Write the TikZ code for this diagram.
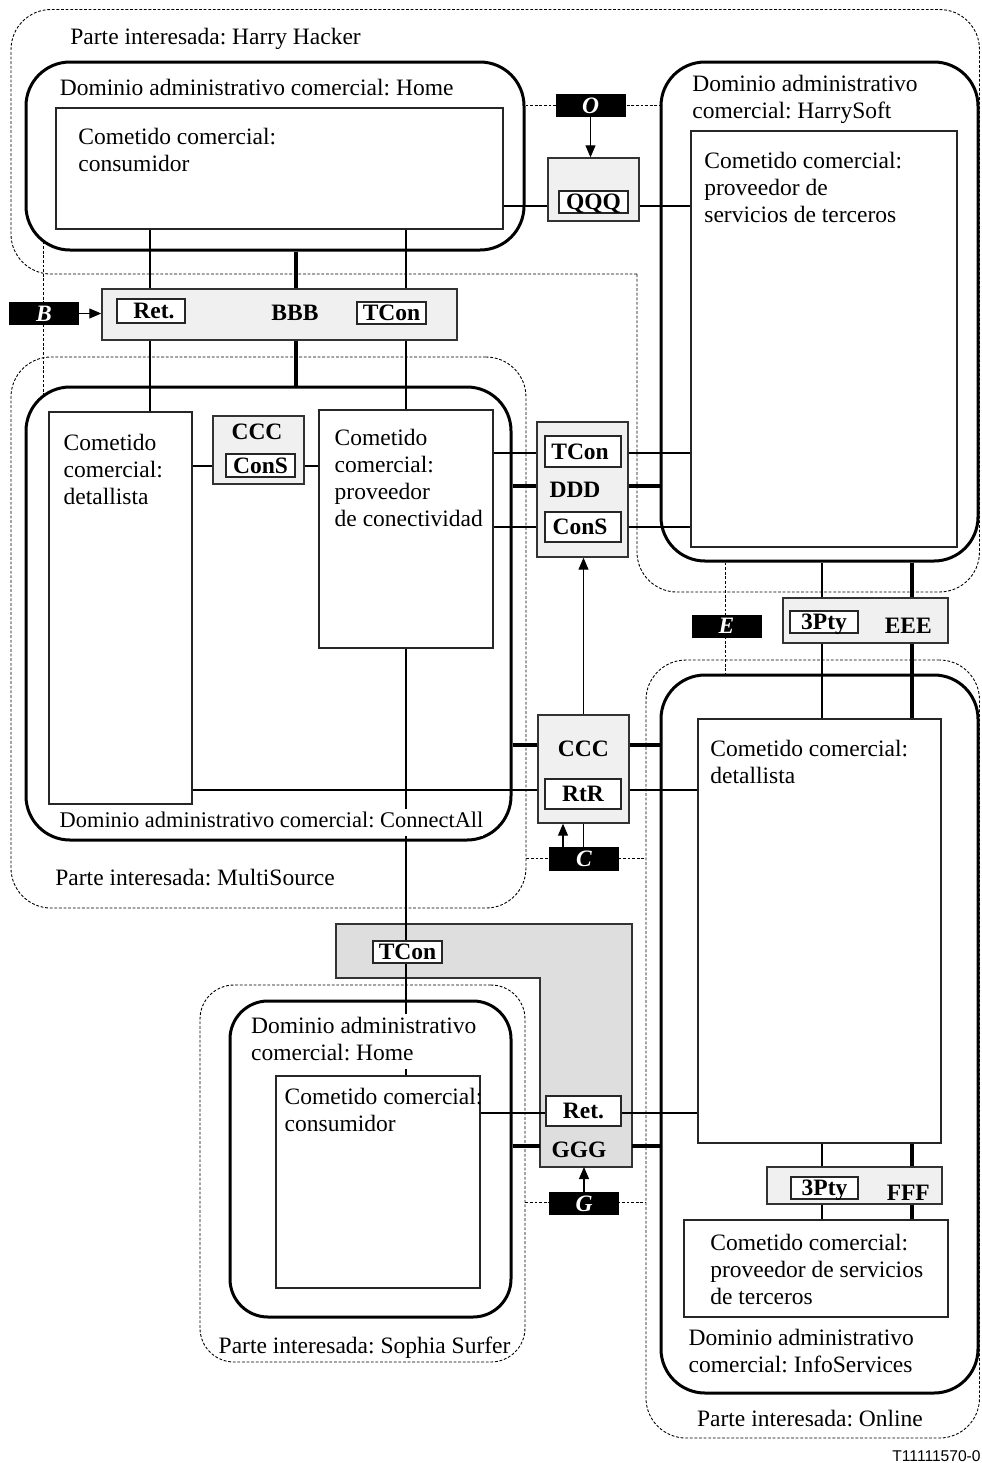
\documentclass[tikz,border=0pt]{standalone}
\usepackage{fontspec}
\setmainfont{Liberation Serif}
\newfontfamily\tagfont{Liberation Sans}
\usetikzlibrary{arrows.meta,fit}
\pgfdeclarelayer{shade}
\pgfdeclarelayer{wires}
\pgfsetlayers{shade,wires,main}
% multi-line text whose baseline is the first line's baseline
\newcommand{\ml}[1]{\begin{tabular}[t]{@{}l@{}}#1\end{tabular}}
\begin{document}
\frenchspacing
\begin{tikzpicture}[x=0.5pt,y=-0.5pt,
  font=\fontsize{11.75}{13.6}\selectfont,
  stake/.style={draw, line width=0.45pt, dash pattern=on 1.4pt off 0.9pt, rounded corners=20pt, inner sep=0pt},
  admdom/.style={draw, line width=1.5pt, rounded corners=22pt, inner sep=0pt},
  role/.style={draw=black!85, line width=0.55pt, inner sep=0pt},
  rp/.style={draw=black!80, fill=black!6, line width=0.7pt, inner sep=0pt},
  tagbox/.style={draw=black!85, fill=white, line width=0.7pt, inner sep=0pt,
    font=\fontsize{11.75}{13.6}\selectfont\bfseries, text height=7.8pt, text depth=0pt},
  rplabel/.style={inner sep=0pt, font=\fontsize{11.75}{13.6}\selectfont\bfseries,
    text height=7.8pt, text depth=0pt},
  iface/.style={fill=black, text=white, inner sep=0pt, minimum height=11.5pt, minimum width=35pt,
    font=\fontsize{11.75}{13.6}\selectfont\bfseries\itshape, text height=7.8pt, text depth=0pt},
  txt/.style={anchor=base west, inner sep=0pt},
  wire/.style={line width=0.55pt},
  bus/.style={line width=1.6pt},
  fence/.style={line width=0.45pt, dash pattern=on 1.4pt off 0.9pt},
  arr/.style={line width=0.55pt, -{Triangle[length=6pt,width=5pt]}},
]
\useasboundingbox (0,0) rectangle (981,1463);

% columns and rows used by the connectors
\coordinate (c150) at (150,0);
\coordinate (c296) at (296,0);
\coordinate (c406) at (406,0);
\coordinate (c563) at (563,0);
\coordinate (c725) at (725,0);
\coordinate (c822) at (822,0);
\coordinate (c912) at (912,0);
\coordinate (r105) at (0,105);
\coordinate (r206) at (0,206);
\coordinate (r453) at (0,453);
\coordinate (r466) at (0,466);
\coordinate (r486) at (0,486);
\coordinate (r527) at (0,527);
\coordinate (r745) at (0,745);
\coordinate (r790) at (0,790);
\coordinate (r858) at (0,858);
\coordinate (r1113) at (0,1113);
\coordinate (r1146) at (0,1146);
\coordinate (r1202) at (0,1202);
\coordinate (bTop) at (43,241.5);
\coordinate (bBot) at (43,395.5);
\coordinate (gggS) at (585,1167);
\coordinate (gggW) at (540,1146);
\coordinate (gggE) at (632,1146);

% stakeholders
\draw[stake] (637,274) -- (11,274) -- (11,9.5) -- (979.5,9.5) -- (979.5,592) -- (637,592) -- (637,274);
\node[stake, fit={(11,357) (526,908)}] (ms) {};
\node[stake, rounded corners=17pt, fit={(200,985) (525,1362)}] (sophia) {};
\node[stake, fit={(646,660) (979.5,1438)}] (online) {};

% administrative domains
\node[admdom, fit={(26,62) (524,250)}] (homeA) {};
\node[admdom, fit={(26,387) (511,840)}] (connectall) {};
\node[admdom, fit={(661,62) (978,561)}] (harrysoft) {};
\node[admdom, fit={(661,675) (978,1393)}] (infoserv) {};
\node[admdom, rounded corners=19pt, fit={(230,1001) (511,1317)}] (homeB) {};

% business roles
\node[role, fit={(56,108) (503,229)}] (consA) {};
\node[role, fit={(49,412) (192,804)}] (retA) {};
\node[role, fit={(319,410) (493,648)}] (conprov) {};
\node[role, fit={(691,131) (957,547)}] (hsprov) {};
\node[role, fit={(698,719) (941,1143)}] (retB) {};
\node[role, fit={(684,1220) (948,1317)}] (isprov) {};
\node[role, fit={(276,1076) (480,1288)}] (consB) {};

% reference points
\node[rp, fit={(548,158) (639,221)}] (qqq) {};
\node[rp, fit={(102,289) (457,340)}] (bbb) {};
\node[rp, fit={(213,416) (304,484)}] (cccA) {};
\node[rp, fit={(537,422) (628,557)}] (ddd) {};
\node[rp, fit={(538,715) (629,823)}] (cccB) {};
\node[rp, fit={(783,598) (948,643)}] (eee) {};
\node[rp, fit={(767,1167) (942,1204)}] (fff) {};
\begin{pgfonlayer}{shade}
  \filldraw[draw=black!80, fill=black!13, line width=0.7pt]
    (336,924) -- (632,924) -- (632,1167) -- (540,1167) -- (540,978) -- (336,978) -- cycle;
\end{pgfonlayer}

\node[rplabel] (bbbL) at (295,312.8) {BBB};
\node[rplabel] (cccAL) at (257,432) {CCC};
\node[rplabel] (dddL) at (575,490) {DDD};
\node[rplabel] (cccBL) at (583.3,749) {CCC};
\node[rplabel] (eeeL) at (908.3,626) {EEE};
\node[rplabel] (fffL) at (908.3,1192.5) {FFF};
\node[rplabel] (gggL) at (579,1150) {GGG};

\node[tagbox, minimum width=34.5pt, minimum height=11pt] (qqqT) at (593.5,202) {QQQ};
\node[tagbox, minimum width=34pt, minimum height=12pt] (bbbRet) at (151,311) {\ Ret.};
\node[tagbox, minimum width=34.5pt, minimum height=11pt] (bbbTCon) at (391.5,313) {TCon};
\node[tagbox, minimum width=34.5pt, minimum height=11.5pt] (cccACons) at (260.5,465.5) {ConS};
\node[tagbox, minimum width=38pt, minimum height=15.5pt] (dddTCon) at (583,451.5) {TCon\ \ };
\node[tagbox, minimum width=38pt, minimum height=15pt] (dddCons) at (583,527) {ConS\ \ };
\node[tagbox, minimum width=38pt, minimum height=15pt] (cccBRtR) at (583,794) {RtR};
\node[tagbox, minimum width=34pt, minimum height=11pt] (eeeP) at (824,622) {3Pty};
\node[tagbox, minimum width=33.5pt, minimum height=11pt] (fffP) at (824.5,1188) {3Pty};
\node[tagbox, minimum width=34.5pt, minimum height=11pt] (gggTCon) at (407.5,952) {TCon};
\node[tagbox, minimum width=37.5pt, minimum height=15pt] (gggRet) at (583.5,1111) {Ret.};

% interfaces
\node[iface] (O) at (590.5,105.5) {O};
\node[iface] (B) at (44,313.5) {B};
\node[iface] (E) at (726.5,626) {E};
\node[iface, minimum height=12pt] (C) at (584,859) {C};
\node[iface] (G) at (584,1203.5) {G};

\begin{pgfonlayer}{wires}
  % thin links
  \draw[wire] (consA.south -| c150) -- (retA.north -| c150);
  \draw[wire] (consA.south -| c406) -- (conprov.north -| c406);
  \draw[wire] (consA.east |- r206) -- (hsprov.west |- r206);
  \draw[wire] (retA.east |- r466) -- (conprov.west |- r466);
  \draw[wire] (conprov.east |- r453) -- (hsprov.west |- r453);
  \draw[wire] (conprov.east |- r527) -- (hsprov.west |- r527);
  \draw[wire] (retA.east |- r790) -- (retB.west |- r790);
  \draw[wire] (conprov.south -| c406) -- (consB.north -| c406);
  \draw[wire] (harrysoft.south -| c822) -- (retB.north -| c822);
  \draw[wire] (retB.south -| c822) -- (isprov.north -| c822);
  \draw[wire] (consB.east |- r1113) -- (retB.west |- r1113);
  % thick links
  \draw[bus] (homeA.south -| c296) -- (connectall.north -| c296);
  \draw[bus] (connectall.east |- r486) -- (harrysoft.west |- r486);
  \draw[bus] (connectall.east |- r745) -- (infoserv.west |- r745);
  \draw[bus] (harrysoft.south -| c912) -- (retB.north -| c912);
  \draw[bus] (retB.south -| c912) -- (isprov.north -| c912);
  \draw[bus] (homeB.east |- r1146) -- (gggW);
  \draw[bus] (gggE) -- (infoserv.west |- r1146);
  % interface boundaries
  \draw[fence] (homeA.east |- r105) -- (harrysoft.west |- r105);
  \draw[fence] (bTop) -- (bBot);
  \draw[fence] (harrysoft.south -| c725) -- (infoserv.north -| c725);
  \draw[fence] (ms.east |- r858) -- (online.west |- r858);
  \draw[fence] (sophia.east |- r1202) -- (online.west |- r1202);
  % arrows
  \draw[arr] (O.south) -- (O.south |- qqq.north);
  \draw[arr] (B.east) -- (B.east -| bbb.west);
  \draw[arr] (cccB.north) -- (cccB.north |- ddd.south);
  \draw[arr] (C.north -| c563) -- (cccB.south -| c563);
  \draw[wire] (cccB.south) -- (cccB.south |- C.north);
  \draw[arr] (G.north) -- (G.north |- gggS);
\end{pgfonlayer}

% texts
\node[txt] (hhlab) at (70,44) {Parte interesada: Harry Hacker};
\node[txt] (homeAlab) at (59.5,95.5) {Dominio administrativo comercial: Home};
\node[txt] (consAlab) at (78,144.5) {\ml{Cometido comercial:\\consumidor}};
\node[txt] (hsdomlab) at (692,91.5) {\ml{Dominio administrativo\\comercial: HarrySoft}};
\node[txt] (hsprovlab) at (704,168.3) {\ml{Cometido comercial:\\proveedor de\\servicios de terceros}};
\node[txt] (retAlab) at (63.3,450) {\ml{Cometido\\comercial:\\detallista}};
\node[txt] (conprovlab) at (334.3,445) {\ml{Cometido\\comercial:\\proveedor\\de conectividad}};
\node[txt, fill=white, font=\fontsize{11.2}{13.6}\selectfont] (calab) at (59.3,827.7) {\ml{Dominio administrativo comercial: ConnectAll}};
\node[txt] (mslab) at (55,885.7) {Parte interesada: MultiSource};
\node[txt] (retBlab) at (710,756.7) {\ml{Cometido comercial:\\detallista}};
\node[txt, fill=white] (homeBlab) at (250.7,1033.3) {\ml{Dominio administrativo\\comercial: Home}};
\node[txt] (consBlab) at (284.3,1104) {\ml{Cometido comercial:\\consumidor}};
\node[txt] (sslab) at (218.3,1353.5) {Parte interesada: Sophia Surfer};
\node[txt] (isprovlab) at (710,1250) {\ml{Cometido comercial:\\proveedor de servicios\\de terceros}};
\node[txt] (islab) at (688.3,1345) {\ml{Dominio administrativo\\comercial: InfoServices}};
\node[txt] (onlab) at (696.7,1426.7) {Parte interesada: Online};
\node[anchor=base east, inner sep=0pt, font=\tagfont\fontsize{7.8}{9}\selectfont] (tag) at (981,1461.5) {T11111570-0};
\end{tikzpicture}
\end{document}
